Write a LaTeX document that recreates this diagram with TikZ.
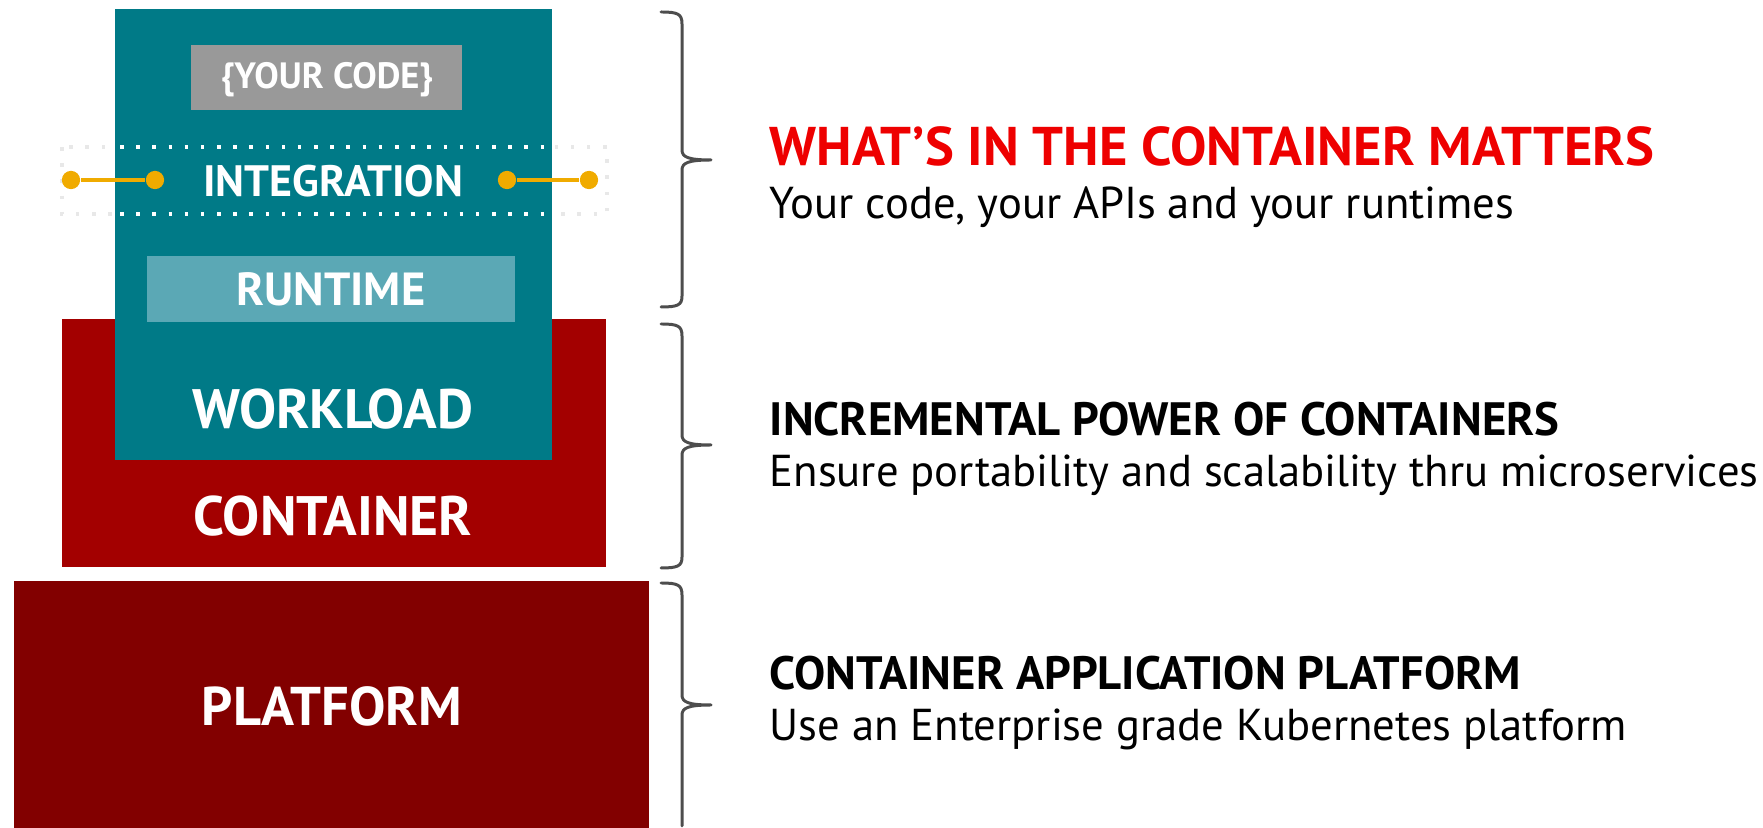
\documentclass[tikz,border=0pt]{standalone}
\usepackage{fontspec}
\setmainfont{PT Sans}
\definecolor{tealbox}{HTML}{007A87}
\definecolor{codegrey}{HTML}{999999}
\definecolor{runtimeblue}{HTML}{5BA8B5}
\definecolor{containerred}{HTML}{A30000}
\definecolor{platformred}{HTML}{820000}
\definecolor{accentorange}{HTML}{F0AB00}
\definecolor{headred}{HTML}{EE0000}
\definecolor{bracegrey}{HTML}{4D4D4D}
\definecolor{dotgrey}{HTML}{E8E8E8}
\tikzset{
  biglabel/.style={text=white, inner sep=0pt, font=\bfseries\fontsize{15.8}{15.8}\selectfont},
  smalllabel/.style={text=white, inner sep=0pt, font=\bfseries\fontsize{12.5}{12.5}\selectfont},
  heading/.style={anchor=base west, inner sep=0pt, font=\bfseries\fontsize{13.3}{13.3}\selectfont},
  subline/.style={anchor=base west, inner sep=0pt, font=\fontsize{12.7}{12.7}\selectfont},
  pin/.style={circle, fill=accentorange, inner sep=0pt, minimum size=5.2pt},
  wire/.style={draw=accentorange, line width=1pt},
  bandline/.style={line width=1pt, dash pattern=on 1pt off 3.6pt},
  curly/.style={draw=bracegrey, line width=0.85pt, line cap=round, line join=round}
}
\begin{document}
\begin{tikzpicture}[x=0.01cm, y=-0.01cm]
\useasboundingbox (0,0) rectangle (1763,828);

% stacked layers
\fill[platformred] (13.5,581) rectangle (649,828);
\fill[containerred] (62,319) rectangle (606,567);

% faint dotted band around the integration row
\draw[dotgrey, bandline] (62,147) rectangle (607,214);

\fill[tealbox] (115,9) rectangle (552,460);
\fill[codegrey] (191,45) rectangle (462,110);
\fill[runtimeblue] (147,256) rectangle (515,322);

% white dotted lines inside the workload column
\draw[white, bandline] (120,147) -- (548,147);
\draw[white, bandline] (120,214) -- (548,214);

% layer labels
\node[smalllabel, font=\bfseries\fontsize{10.4}{10.4}\selectfont] (code) at (327,80) {\{YOUR CODE\}};
\node[smalllabel] (integration) at (333,181) {INTEGRATION};
\node[biglabel, font=\bfseries\fontsize{13.2}{13.2}\selectfont] (runtime) at (331,289) {RUNTIME};
\node[biglabel] (workload) at (333,409) {WORKLOAD};
\node[biglabel] (container) at (333,516) {CONTAINER};
\node[biglabel, font=\bfseries\fontsize{15.5}{15.5}\selectfont] (platform) at (332,706) {PLATFORM};

% integration pins
\node[pin] (pinLa) at (71,180) {};
\node[pin] (pinLb) at (155,180) {};
\node[pin] (pinRa) at (507,180) {};
\node[pin] (pinRb) at (589,180) {};
\draw[wire] (pinLa) -- (pinLb);
\draw[wire] (pinRa) -- (pinRb);

% curly braces
\draw[curly] (661,12) .. controls (678,12) and (682,14) .. (682,24) -- (682,150)
  .. controls (682,157) and (688,160) .. (711,160)
  .. controls (688,160) and (682,163) .. (682,170) -- (682,296)
  .. controls (682,305) and (678,307) .. (661,307);
\draw[curly] (661,324) .. controls (678,324) and (682,326) .. (682,336) -- (682,435)
  .. controls (682,442) and (688,445) .. (711,445)
  .. controls (688,445) and (682,448) .. (682,455) -- (682,557)
  .. controls (682,566) and (678,568) .. (661,568);
\draw[curly] (661,583) .. controls (678,583) and (682,585) .. (682,595) -- (682,695)
  .. controls (682,702) and (688,705) .. (711,705)
  .. controls (688,705) and (682,708) .. (682,715) -- (682,826);

% descriptions
\node[heading, text=headred, font=\bfseries\fontsize{15.5}{15.5}\selectfont] (h1) at (769,166) {WHAT’S IN THE CONTAINER MATTERS};
\node[subline] (s1) at (769,219) {Your code, your APIs and your runtimes};
\node[heading] (h2) at (769,436) {INCREMENTAL POWER OF CONTAINERS};
\node[subline] (s2) at (769,487) {Ensure portability and scalability thru microservices};
\node[heading] (h3) at (769,690) {CONTAINER APPLICATION PLATFORM};
\node[subline] (s3) at (769,741) {Use an Enterprise grade Kubernetes platform};
\end{tikzpicture}
\end{document}
